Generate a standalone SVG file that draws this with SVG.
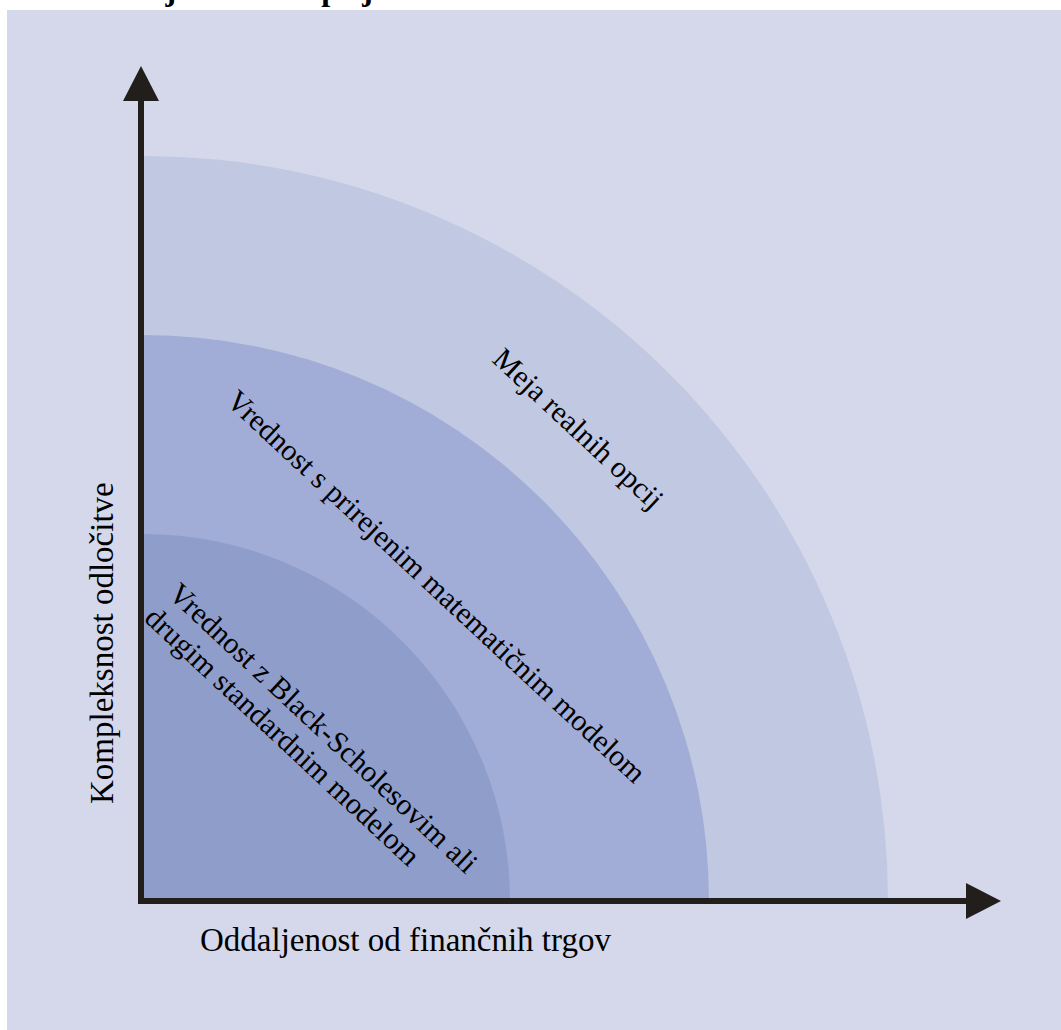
<svg xmlns="http://www.w3.org/2000/svg" width="1061" height="1030" viewBox="0 0 1061 1030">
  <style>
    .axis { stroke: #221e1c; stroke-width: 6; fill: none; }
    .head { fill: #221e1c; }
    .lbl { font-family: "Liberation Serif", "Times New Roman", serif; fill: #000; }
    .ax { font-size: 33px; }
    .dg { font-size: 30px; }
  </style>

  <!-- page background -->
  <rect x="0" y="0" width="1061" height="1030" fill="#ffffff"/>
  <text class="lbl" x="121" y="0" font-size="32" font-weight="bold">Meja realnih opcij</text>

  <!-- figure panel -->
  <rect x="7" y="10" width="1054" height="1020" fill="#d4d8ea"/>

  <!-- nested quarter-disc zones -->
  <g id="zone-outer">
    <path d="M141,901 V156 H143 A745,745 0 0 1 888,901 Z" fill="#c1c8e2"/>
    <text class="lbl dg" transform="translate(491,361) rotate(43)">Meja realnih opcij</text>
  </g>
  <g id="zone-middle">
    <path d="M141,901 V335 H143 A566,566 0 0 1 709,901 Z" fill="#a1add7"/>
    <text class="lbl dg" transform="translate(225,403) rotate(43)">Vrednost s prirejenim matematičnim modelom</text>
  </g>
  <g id="zone-inner">
    <path d="M141,901 V534 H143 A367,367 0 0 1 510,901 Z" fill="#8f9dcb"/>
    <text class="lbl dg" transform="translate(167,596) rotate(43)">Vrednost z Black-Scholesovim ali</text>
    <text class="lbl dg" transform="translate(143,620) rotate(43)">drugim standardnim modelom</text>
  </g>

  <!-- axes -->
  <g id="connectors">
    <line class="axis" x1="141" y1="100" x2="141" y2="904"/>
    <polygon class="head" points="141,66 123,101 159,101"/>
    <line class="axis" x1="138" y1="901" x2="967" y2="901"/>
    <polygon class="head" points="1001,901 966,883 966,919"/>
  </g>

  <g id="axis-labels">
    <text class="lbl ax" transform="translate(113,804) rotate(-90)">Kompleksnost odločitve</text>
    <text class="lbl ax" x="200" y="951">Oddaljenost od finančnih trgov</text>
  </g>
</svg>
